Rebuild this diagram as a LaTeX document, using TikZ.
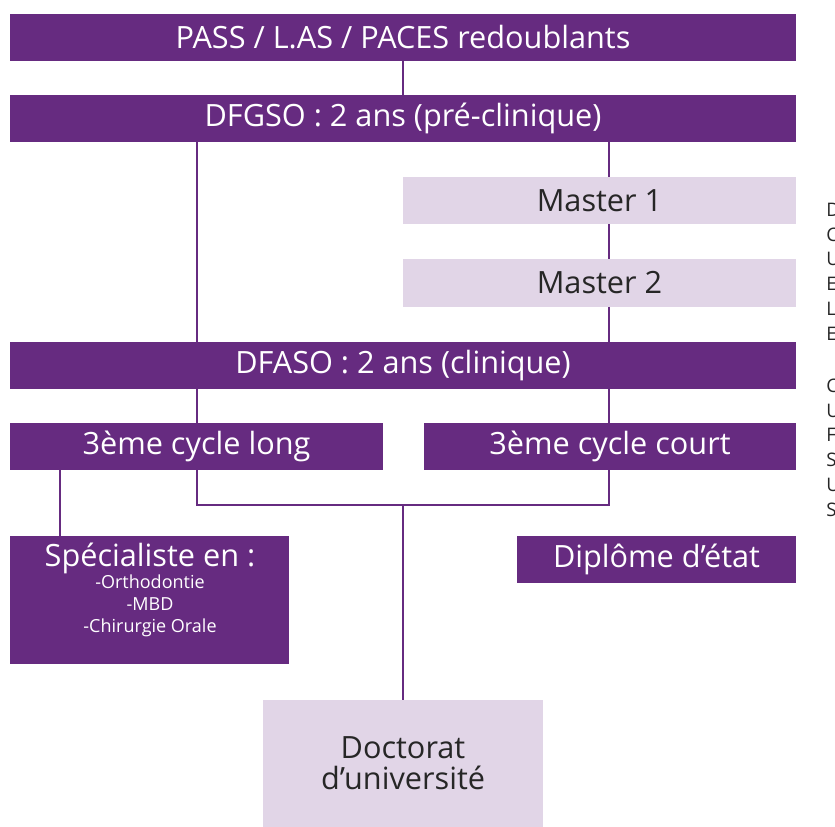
\documentclass[tikz,border=0pt]{standalone}
\usepackage{fontspec}
\setmainfont{Open Sans}
\definecolor{purp}{HTML}{662B80}
\definecolor{lilac}{HTML}{E1D5E7}
\definecolor{ink}{HTML}{262626}
\tikzset{
  base/.style={rectangle, inner sep=0pt, minimum height=47*0.75pt, font=\fontsize{23}{27}\selectfont},
  dark/.style={base, fill=purp, text=white},
  light/.style={base, fill=lilac, text=ink},
  conn/.style={draw=purp, line width=1.5pt},
  edge/.style={anchor=west, text=ink, font=\fontsize{14}{16}\selectfont, inner sep=0pt}
}
\begin{document}
\begin{tikzpicture}[x=0.75pt, y=-0.75pt]
\useasboundingbox (0,0) rectangle (835,827);
% boxes
\node[dark, minimum width=786*0.75pt] (pass) at (403,37.5) {PASS / L.AS / PACES redoublants};
\node[dark, minimum width=786*0.75pt] (dfgso) at (403,118.5) {DFGSO : 2 ans (pré-clinique)};
\node[light, minimum width=393*0.75pt] (m1) at (599.5,200.5) {Master 1};
\node[light, minimum width=393*0.75pt] (m2) at (599.5,283) {Master 2};
\node[dark, minimum width=786*0.75pt] (dfaso) at (403,365.5) {DFASO : 2 ans (clinique)};
\node[dark, minimum width=373*0.75pt] (long) at (196.5,446.5) {3ème cycle long};
\node[dark, minimum width=372*0.75pt] (court) at (610,446.5) {3ème cycle court};
\node[dark, minimum width=279*0.75pt, minimum height=128*0.75pt] (spec) at (149.5,600) {};
\node[anchor=base, text=white, inner sep=0pt, font=\fontsize{23}{27}\selectfont] (spectitle) at (150,566) {Spécialiste en :};
\node[anchor=north, text=white, align=center, inner sep=0pt, font=\fontsize{13.5}{16.5}\selectfont] (speclist) at (150,575)
  {-Orthodontie\\-MBD\\-Chirurgie Orale};
\node[dark, minimum width=279*0.75pt] (dipl) at (656.5,559.5) {Diplôme d’état};
\node[light, minimum width=280*0.75pt, minimum height=127*0.75pt, align=center, font=\fontsize{23}{23}\selectfont] (doct) at (403,763.5) {Doctorat\\d’université};
% helper coordinates
\coordinate (xl) at (197,0);
\coordinate (xr) at (609,0);
\coordinate (xs) at (60,0);
\coordinate (jy) at (0,505);
% connectors
\draw[conn] (pass) -- (dfgso);
\draw[conn] (dfgso.south -| xl) -- (dfaso.north -| xl);
\draw[conn] (dfgso.south -| xr) -- (m1.north -| xr);
\draw[conn] (m1.south -| xr) -- (m2.north -| xr);
\draw[conn] (m2.south -| xr) -- (dfaso.north -| xr);
\draw[conn] (dfaso.south -| xl) -- (long.north -| xl);
\draw[conn] (dfaso.south -| xr) -- (court.north -| xr);
\draw[conn] (long.south -| xl) -- (jy -| xl) -- (jy -| xr) -- (court.south -| xr);
\draw[conn] (doct.north) -- (doct.north |- jy);
\draw[conn] (long.south -| xs) -- (spec.north -| xs);
% cut-off text at the right edge
\begin{scope}
\clip (0,0) rectangle (835,827);
\foreach \t/\yy in {D/210,C/235,U/259,E/284,L/309,E/334,C/386,U/411,F/435,S/460,U/485,S/510}
  \node[edge] at (826,\yy) {\t};
\end{scope}
\end{tikzpicture}
\end{document}
